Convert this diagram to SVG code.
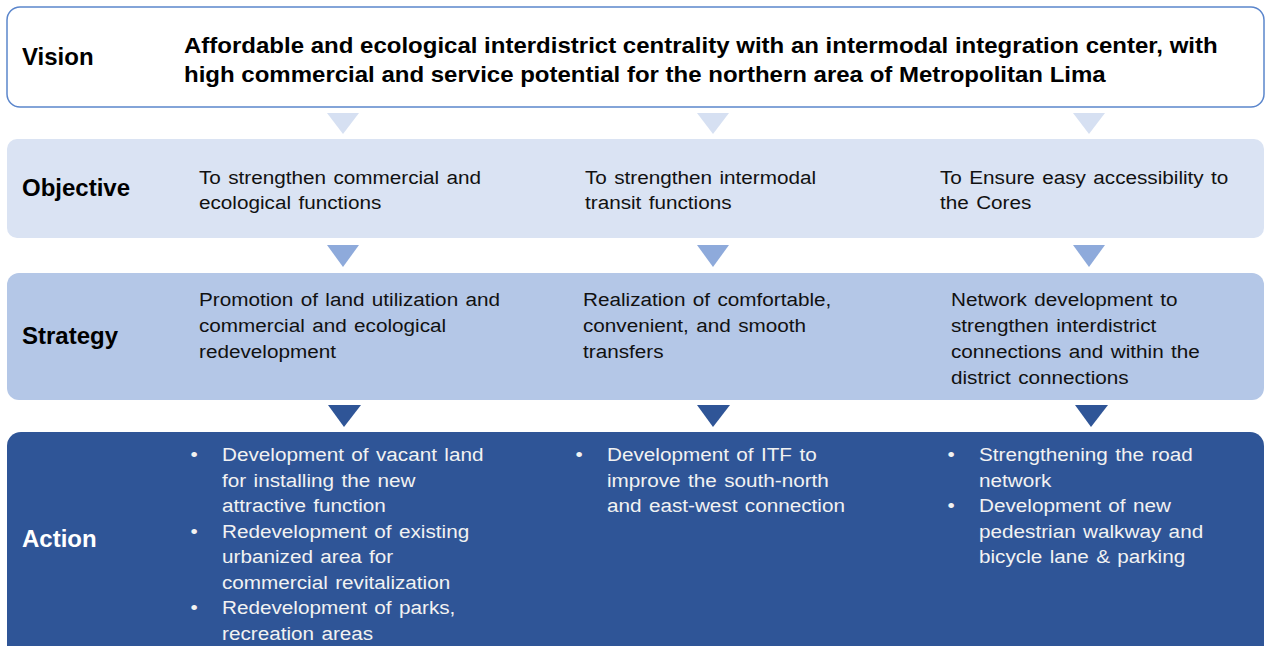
<svg xmlns="http://www.w3.org/2000/svg" width="1265" height="646" viewBox="0 0 1265 646">
  <style>
    .lbl { font-family: "Liberation Sans", Arial, sans-serif; font-weight: bold; font-size: 24px; fill: #000; }
    .vis { font-family: "Liberation Sans", Arial, sans-serif; font-weight: bold; font-size: 22px; fill: #000; }
    .txt { font-family: "Liberation Sans", Arial, sans-serif; font-size: 19px; fill: #111; word-spacing: 1.5px; }
    .wt { fill: #f2f2f2; }
    .lblw { fill: #fff; }
  </style>
  <rect width="1265" height="646" fill="#fff"/>

  <!-- Vision row -->
  <g id="vision">
    <rect x="7" y="7" width="1257" height="100" rx="13" fill="#fff" stroke="#5b86cc" stroke-width="1.5"/>
    <text class="lbl" x="22" y="65">Vision</text>
    <g transform="translate(184,0) scale(1.092,1)">
      <text class="vis" x="0" y="53">Affordable and ecological interdistrict centrality with an intermodal integration center, with</text>
      <text class="vis" x="0" y="82">high commercial and service potential for the northern area of Metropolitan Lima</text>
    </g>
  </g>

  <!-- Objective row -->
  <g id="objective">
    <rect x="7" y="139" width="1257" height="99" rx="10" fill="#dae3f3"/>
    <text class="lbl" x="22" y="196">Objective</text>
    <g transform="translate(199,0) scale(1.09,1)">
      <text class="txt" x="0" y="184">To strengthen commercial and</text>
      <text class="txt" x="0" y="209">ecological functions</text>
    </g>
    <g transform="translate(585,0) scale(1.09,1)">
      <text class="txt" x="0" y="184">To strengthen intermodal</text>
      <text class="txt" x="0" y="209">transit functions</text>
    </g>
    <g transform="translate(940,0) scale(1.09,1)">
      <text class="txt" x="0" y="184">To Ensure easy accessibility to</text>
      <text class="txt" x="0" y="209">the Cores</text>
    </g>
  </g>

  <!-- Strategy row -->
  <g id="strategy">
    <rect x="7" y="273" width="1257" height="127" rx="12" fill="#b4c7e7"/>
    <text class="lbl" x="22" y="344">Strategy</text>
    <g transform="translate(199,0) scale(1.09,1)">
      <text class="txt" x="0" y="306">Promotion of land utilization and</text>
      <text class="txt" x="0" y="332">commercial and ecological</text>
      <text class="txt" x="0" y="358">redevelopment</text>
    </g>
    <g transform="translate(583,0) scale(1.09,1)">
      <text class="txt" x="0" y="306">Realization of comfortable,</text>
      <text class="txt" x="0" y="332">convenient, and smooth</text>
      <text class="txt" x="0" y="358">transfers</text>
    </g>
    <g transform="translate(951,0) scale(1.09,1)">
      <text class="txt" x="0" y="306">Network development to</text>
      <text class="txt" x="0" y="332">strengthen interdistrict</text>
      <text class="txt" x="0" y="358">connections and within the</text>
      <text class="txt" x="0" y="384">district connections</text>
    </g>
  </g>

  <!-- Action row -->
  <g id="action">
    <rect x="7" y="432" width="1257" height="240" rx="14" fill="#2f5597"/>
    <text class="lbl lblw" x="22" y="547">Action</text>
    <g transform="translate(222,0) scale(1.09,1)">
      <text class="txt wt" x="-29" y="461">•</text>
      <text class="txt wt" x="0" y="461">Development of vacant land</text>
      <text class="txt wt" x="0" y="487">for installing the new</text>
      <text class="txt wt" x="0" y="512">attractive function</text>
      <text class="txt wt" x="-29" y="538">•</text>
      <text class="txt wt" x="0" y="538">Redevelopment of existing</text>
      <text class="txt wt" x="0" y="563">urbanized area for</text>
      <text class="txt wt" x="0" y="589">commercial revitalization</text>
      <text class="txt wt" x="-29" y="614">•</text>
      <text class="txt wt" x="0" y="614">Redevelopment of parks,</text>
      <text class="txt wt" x="0" y="640">recreation areas</text>
    </g>
    <g transform="translate(607,0) scale(1.09,1)">
      <text class="txt wt" x="-29" y="461">•</text>
      <text class="txt wt" x="0" y="461">Development of ITF to</text>
      <text class="txt wt" x="0" y="487">improve the south-north</text>
      <text class="txt wt" x="0" y="512">and east-west connection</text>
    </g>
    <g transform="translate(979,0) scale(1.09,1)">
      <text class="txt wt" x="-29" y="461">•</text>
      <text class="txt wt" x="0" y="461">Strengthening the road</text>
      <text class="txt wt" x="0" y="487">network</text>
      <text class="txt wt" x="-29" y="512">•</text>
      <text class="txt wt" x="0" y="512">Development of new</text>
      <text class="txt wt" x="0" y="538">pedestrian walkway and</text>
      <text class="txt wt" x="0" y="563">bicycle lane &amp; parking</text>
    </g>
  </g>

  <!-- Down arrows between rows -->
  <g id="connectors">
    <g fill="#d6e0f2">
      <polygon points="327,113 359,113 343,134"/>
      <polygon points="697,113 729,113 713,134"/>
      <polygon points="1073,113 1105,113 1089,134"/>
    </g>
    <g fill="#8eaadb">
      <polygon points="327,245 359,245 343,267"/>
      <polygon points="697,245 729,245 713,267"/>
      <polygon points="1073,245 1105,245 1089,267"/>
    </g>
    <g fill="#2f5597">
      <polygon points="328,405 361,405 344,427"/>
      <polygon points="697,405 730,405 713,427"/>
      <polygon points="1075,405 1108,405 1091,427"/>
    </g>
  </g>
</svg>
